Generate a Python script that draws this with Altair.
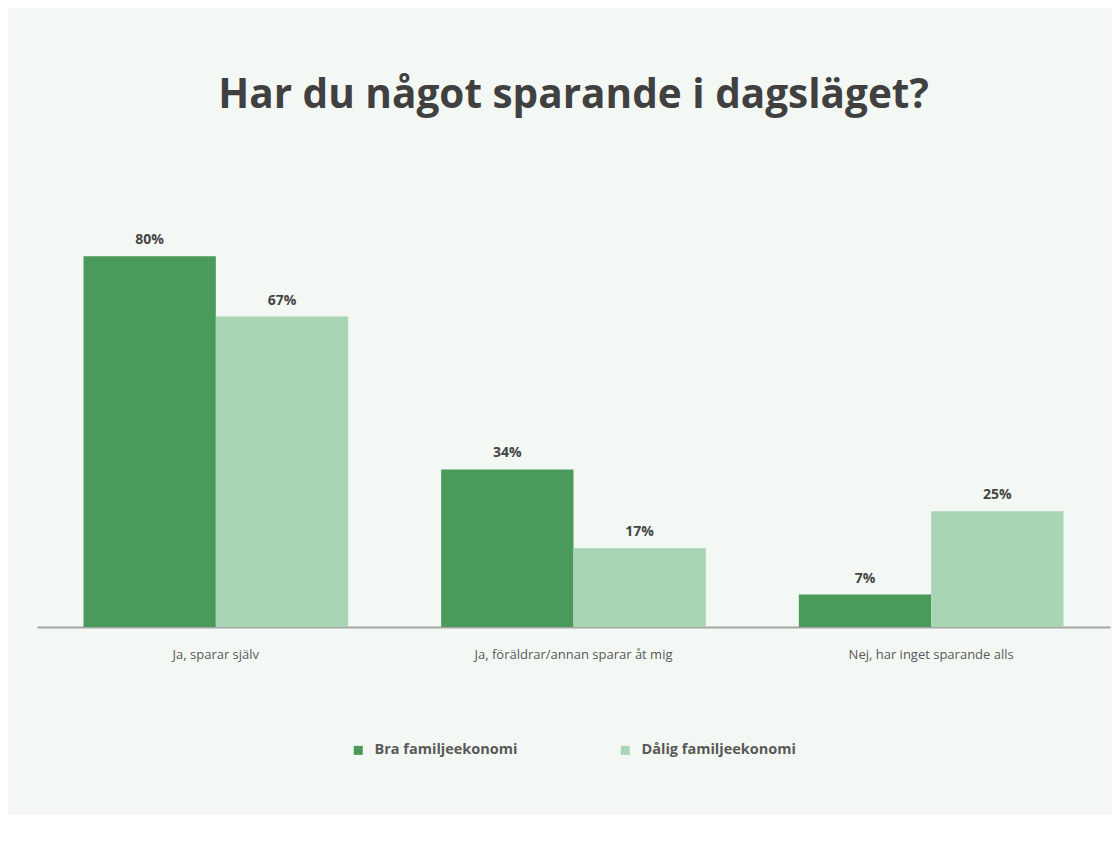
import altair as alt
import pandas as pd

categories = ["Ja, sparar själv", "Ja, föräldrar/annan sparar åt mig", "Nej, har inget sparande alls"]
groups = ["Bra familjeekonomi", "Dålig familjeekonomi"]
bra = [80, 34, 7]
dalig = [67, 17, 25]
colors = ["#4a9a5c", "#a8d5b4"]

rows = []
for c, b, d in zip(categories, bra, dalig):
    rows.append({"kategori": c, "grupp": groups[0], "andel": b, "etikett": f"{b}%"})
    rows.append({"kategori": c, "grupp": groups[1], "andel": d, "etikett": f"{d}%"})
df = pd.DataFrame(rows)

FONT = "Open Sans"

x = alt.X("kategori:N", sort=categories, title=None,
          scale=alt.Scale(paddingInner=0.26, paddingOuter=0.13),
          axis=alt.Axis(labelAngle=0, ticks=False, domainColor="#a6a6a6", domainWidth=2,
                        labelPadding=21, labelFontSize=13, labelColor="#595959",
                        labelFont=FONT, labelLimit=500, grid=False))
xo = alt.XOffset("grupp:N", sort=groups, scale=alt.Scale(paddingInner=0, paddingOuter=0))
y = alt.Y("andel:Q", scale=alt.Scale(domain=[0, 90]), axis=None)

base = alt.Chart(df)

bars = base.mark_bar().encode(
    x=x, xOffset=xo, y=y,
    color=alt.Color("grupp:N", sort=groups,
                    scale=alt.Scale(domain=groups, range=colors),
                    legend=alt.Legend(orient="none", legendX=314, legendY=533,
                                      direction="horizontal", title=None,
                                      symbolType="square", symbolSize=81,
                                      labelFontSize=14.5, labelFontWeight="bold",
                                      labelColor="#595959", labelFont=FONT,
                                      columnPadding=100, labelOffset=9, padding=0,
                                      symbolStrokeWidth=0, labelLimit=400)),
)

labels = base.mark_text(dy=-12, baseline="alphabetic", fontSize=14, fontWeight="bold",
                        font=FONT, color="#454545").encode(
    x=x, xOffset=xo, y=y, text="etikett:N"
)

chart = alt.layer(bars, labels).properties(
    width=1073, height=417,
    title=alt.TitleParams("Har du något sparande i dagsläget?", fontSize=40.5, font=FONT,
                          fontWeight="bold", color="#404040", anchor="middle", offset=94),
    autosize=alt.AutoSizeParams(type="none"),
    padding={"left": 29, "top": 202, "right": 2, "bottom": 188},
    background="#f3f8f4",
).configure_view(stroke=None)

chart.save("out.html", embed_options={"renderer": "svg", "actions": False})
